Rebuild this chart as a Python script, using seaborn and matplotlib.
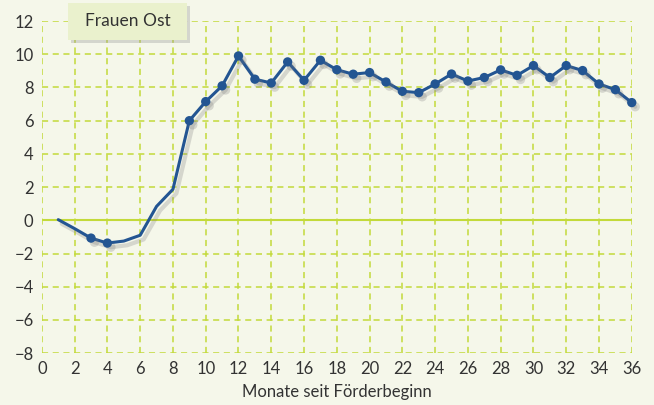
import pandas as pd
import matplotlib.pyplot as plt
import matplotlib.patheffects as pe
from matplotlib.patches import Rectangle
import seaborn as sns

sns.set_style("white")
plt.rcParams["font.family"] = ["Lato", "DejaVu Sans"]

months = list(range(1, 37))
values = [0.04, -0.5, -1.07, -1.37, -1.25, -0.9, 0.84, 1.87, 6.0, 7.15,
          8.1, 9.9, 8.5, 8.27, 9.54, 8.43, 9.64, 9.07, 8.8, 8.9,
          8.33, 7.77, 7.69, 8.21, 8.81, 8.39, 8.6, 9.06, 8.73, 9.32,
          8.6, 9.32, 9.02, 8.21, 7.87, 7.09]
marked = [3, 4] + list(range(9, 37))

title = "Frauen Ost"
xlabel = "Monate seit Förderbeginn"
xticks = list(range(0, 37, 2))
yticks = list(range(-8, 13, 2))

df = pd.DataFrame({"Monat": months, "Wert": values})
dm = df[df["Monat"].isin(marked)]

bg = "#f5f7ea"
grid = "#c3da3a"
blue = "#235592"
txt = "#333333"

fig = plt.figure(figsize=(6.54, 4.05), dpi=100, facecolor=bg)
ax = fig.add_axes([0.064, 0.128, 0.902, 0.82])
ax.set_facecolor(bg)

shadow = [pe.SimpleLineShadow(offset=(2.5, -3), shadow_color="#777777", alpha=0.25, linewidth=3), pe.Normal()]
sns.lineplot(data=df, x="Monat", y="Wert", ax=ax, color=blue, linewidth=2.2,
             path_effects=shadow, zorder=3, clip_on=False)
sns.scatterplot(data=dm, x="Monat", y="Wert", ax=ax, color=blue, s=45,
                edgecolor=blue, linewidth=0, zorder=4, clip_on=False)
ax.collections[-1].set_path_effects([pe.SimplePatchShadow(offset=(2.5, -3), shadow_rgbFace="#777777", alpha=0.25), pe.Normal()])

ax.set_xlim(0, 36)
ax.set_ylim(-8, 12)
ax.set_xticks(xticks)
ax.set_yticks(yticks)
ax.grid(True, color=grid, linestyle=(0, (4, 3)), linewidth=1.1)
ax.axhline(0, color=grid, linewidth=1.5, zorder=2)
for s in ax.spines.values():
    s.set_visible(False)
ax.tick_params(axis="both", length=0, labelsize=12, colors=txt, pad=6)
ax.set_xlabel(xlabel, fontsize=12, color=txt, labelpad=5)
ax.set_ylabel("")

box = Rectangle((0.104, 0.901), 0.182, 0.092, transform=fig.transFigure,
                facecolor="#eaf1cd", edgecolor="none", zorder=10,
                path_effects=[pe.SimplePatchShadow(offset=(2, -2), shadow_rgbFace="#999999", alpha=0.35), pe.Normal()])
fig.patches.append(box)
fig.text(0.195, 0.947, title, fontsize=12.5, color=txt, ha="center", va="center", zorder=11)

plt.savefig("out.png", facecolor=bg)
